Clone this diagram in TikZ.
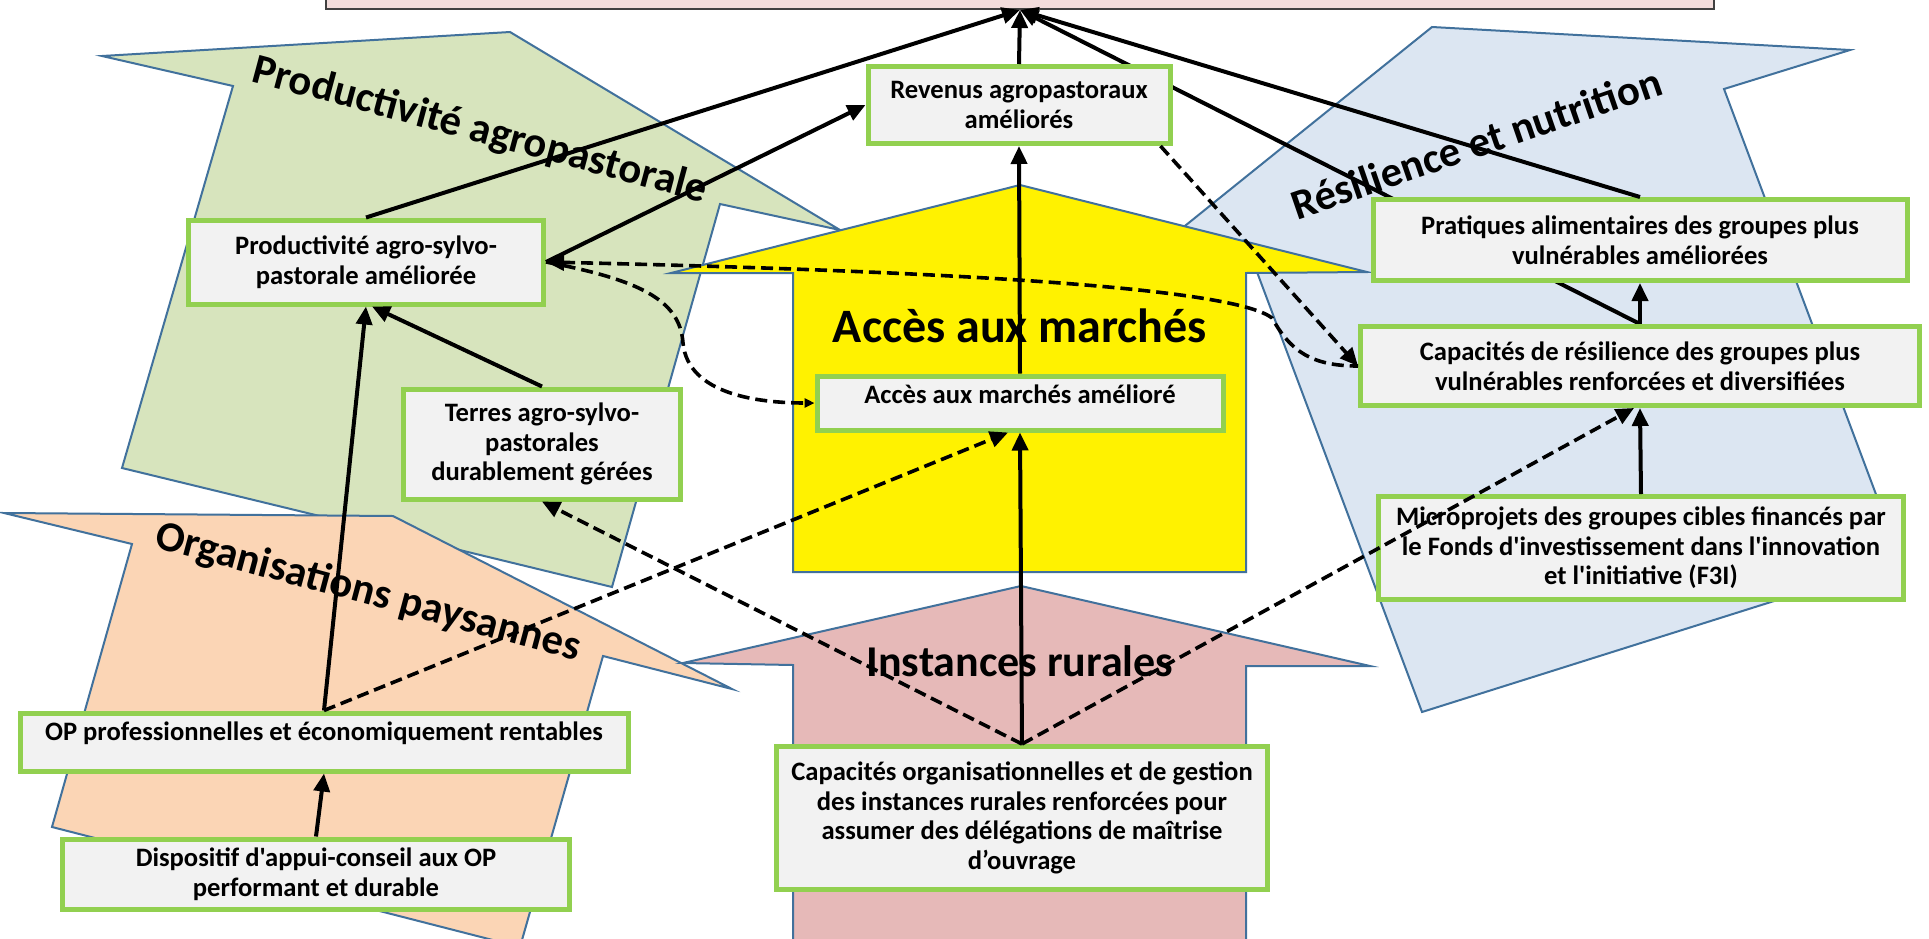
\documentclass[tikz,border=0pt]{standalone}
\usepackage{fontspec}
\setmainfont{Carlito}[Ligatures=TeXOff]
\usetikzlibrary{arrows.meta}
\definecolor{boxgreen}{HTML}{92D050}
\definecolor{boxgray}{HTML}{F2F2F2}
\definecolor{edgeblue}{HTML}{41719C}
\definecolor{goalpink}{HTML}{F2DCDB}
\definecolor{prodgreen}{HTML}{D7E4BD}
\definecolor{orgorange}{HTML}{FBD5B5}
\definecolor{instpink}{HTML}{E6B9B8}
\definecolor{resblue}{HTML}{DCE6F2}
\pgfdeclarelayer{back}
\pgfdeclarelayer{mid}
\pgfsetlayers{back,mid,main}

\begin{document}
\begin{tikzpicture}[x=0.5pt, y=-0.5pt,
  result/.style={draw=boxgreen, line width=2.5pt, fill=boxgray, align=center, inner sep=1pt,
    font=\bfseries\fontsize{13.3}{14.8}\selectfont},
  zone/.style={draw=edgeblue, line width=1pt},
  theme/.style={font=\bfseries\fontsize{21.3}{25}\selectfont},
  link/.style={-{Triangle[length=9pt,width=8pt]}, line width=2pt},
  dlink/.style={link, dash pattern=on 6pt off 3pt, line width=1.8pt}]
\useasboundingbox (0,0) rectangle (1929,938);

\begin{pgfonlayer}{back}
  \fill[white] (0,0) rectangle (1929,938);
  \path[zone, fill=prodgreen] (102,56) -- (510,32) -- (840,230) -- (720,204) -- (612,587) -- (122,468) -- (233,86) -- cycle;
  \path[zone, fill=orgorange] (4,513) -- (393,516) -- (732,689) -- (603,656) -- (520,947) -- (52,827) -- (132,544) -- cycle;
  \path[zone, fill=resblue] (1432,27) -- (1850,50) -- (1724,89) -- (1901,561) -- (1422,712) -- (1245,240) -- (1119,279) -- cycle;
  \path[zone, fill=yellow] (1020,185) -- (1367,272) -- (1246,273) -- (1246,572) -- (793,572) -- (793,273) -- (671,273) -- cycle;
  \path[zone, fill=instpink] (1021,586) -- (1370,666) -- (1246,666) -- (1246,945) -- (793,945) -- (793,665) -- (683,663) -- cycle;
  \node[theme, rotate=-15] (tprod) at (480,131) {Productivité agropastorale};
  \node[theme, rotate=-15] (torg) at (368,593) {Organisations paysannes};
  \node[theme, rotate=19] (tres) at (1476,143) {Résilience et nutrition};
  \node[font=\bfseries\fontsize{24}{28}\selectfont] (tacc) at (1020,326) {Accès aux marchés};
  \node[font=\bfseries\fontsize{22}{26}\selectfont] (tinst) at (1020,661) {Instances rurales};
\end{pgfonlayer}

\node[draw=black!75, line width=1pt, fill=goalpink, minimum width=694pt, minimum height=30pt] (goal) at (1020,-21) {};

\node[result, minimum width=151pt, minimum height=38.5pt] (rev) at (1019,105) {Revenus agropastoraux\\améliorés};
\node[result, minimum width=177.5pt, minimum height=42pt] (prod) at (366,262) {Productivité agro-sylvo-\\pastorale améliorée};
\node[result, minimum width=138.5pt, minimum height=55pt] (terres) at (542,444) {Terres agro-sylvo-\\pastorales\\durablement gérées};
\node[result, minimum width=203pt, minimum height=27pt, text depth=9.3pt] (acces) at (1020,403) {Accès aux marchés amélioré};
\node[result, minimum width=267pt, minimum height=40.5pt] (prat) at (1640,240) {Pratiques alimentaires des groupes plus\\vulnérables améliorées};
\node[result, minimum width=279.5pt, minimum height=39.5pt] (capres) at (1640,366) {Capacités de résilience des groupes plus\\vulnérables renforcées et diversifiées};
\node[result, minimum width=262.5pt, minimum height=51.5pt] (micro) at (1641,548) {Microprojets des groupes cibles financés par\\le Fonds d'investissement dans l'innovation\\et l'initiative (F3I)};
\node[result, minimum width=304pt, minimum height=29pt, text depth=11pt] (op) at (324,742) {OP professionnelles et économiquement rentables};
\node[result, minimum width=253.5pt, minimum height=35pt] (disp) at (316,874) {Dispositif d'appui-conseil aux OP\\performant et durable};
\node[result, minimum width=245.5pt, minimum height=71.5pt] (caporg) at (1022,818) {Capacités organisationnelles et de gestion\\des instances rurales renforcées pour\\assumer des délégations de maîtrise\\d’ouvrage};

\begin{pgfonlayer}{mid}
  \draw[link] (capres.north) -- (goal.south);
\end{pgfonlayer}

\draw[link] (prod.north) -- (goal.south);
\draw[link] (rev.north) -- (goal.south);
\draw[link] (prat.north) -- (goal.south);
\draw[link] (capres.north) -- (prat.south);
\draw[link] (micro.north) -- (capres.south);
\draw[link] (acces.north) -- (rev.south);
\draw[link] (caporg.north) -- (acces.south);
\draw[link] (terres.north) -- ([xshift=3pt]prod.south);
\draw[link] (op.north) -- (prod.south);
\draw[link] (disp.north) -- (op.south);
\draw[link] (prod.east) -- (rev.west);

\draw[dlink] ([xshift=-6pt]rev.south east) -- (capres.west);
\draw[dlink] (caporg.north) -- (terres.south);
\draw[dlink] (op.north) -- ([xshift=-6pt]acces.south);
\draw[dlink] (caporg.north) -- ([xshift=-3pt]capres.south);
\draw[dlink, {Triangle[length=9pt,width=8pt]}-] (prod.east) .. controls (900,270) and (1230,285) .. (1272,318)
  .. controls (1290,350) and (1310,366) .. (capres.west);
\draw[dlink, -{Triangle[length=5pt,width=4.5pt]}] (prod.east) .. controls (640,280) and (680,300) .. (683,343)
  .. controls (688,395) and (760,403) .. (acces.west);
\end{tikzpicture}
\end{document}
